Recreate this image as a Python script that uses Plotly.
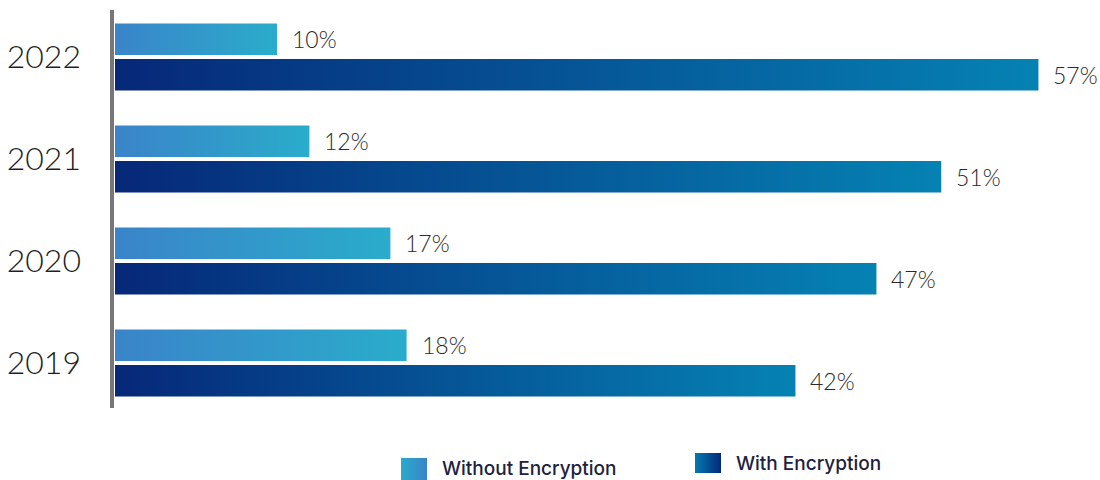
import plotly.graph_objects as go

# Share of incidents, by year
years = ["2019", "2020", "2021", "2022"]
without_encryption = [18, 17, 12, 10]
with_encryption = [42, 47, 51, 57]
series_names = ["Without Encryption", "With Encryption"]

# Styling
WITHOUT_SCALE = [[0, "#3a84c9"], [1, "#2aaccb"]]
WITH_SCALE = [[0, "#062878"], [1, "#0582b3"]]
WITHOUT_SWATCH = [[0, "#2aaacb"], [1, "#3a84c8"]]
WITH_SWATCH = [[0, "#047ab0"], [1, "#03287a"]]
BAR_H = 0.31      # bar thickness, in category units
OFFSET = 0.174    # distance of each bar from the category centre
FONT = "Lato"

fig = go.Figure()


def gradient_bar(value, centre, scale):
    y0, y1 = centre - BAR_H / 2, centre + BAR_H / 2
    return go.Scatter(
        x=[0, value, value, 0, 0],
        y=[y0, y0, y1, y1, y0],
        mode="lines",
        line=dict(width=0),
        fill="toself",
        fillgradient=dict(type="horizontal", colorscale=scale),
        hoverinfo="skip",
        showlegend=False,
    )


annotations = []
for i, yr in enumerate(years):
    for val, off, scale in (
        (without_encryption[i], OFFSET, WITHOUT_SCALE),
        (with_encryption[i], -OFFSET, WITH_SCALE),
    ):
        fig.add_trace(gradient_bar(val, i + off, scale))
        annotations.append(dict(
            x=val, y=i + off, xref="x", yref="y",
            text=f"{val}%", showarrow=False,
            xanchor="left", yanchor="middle", xshift=13,
            font=dict(family=FONT, size=23, color="#2a2a2a", weight=300),
        ))

# Legend swatches drawn on a pixel-scaled overlay axis
swatches = [
    (401, 427, 458, 480, WITHOUT_SWATCH),
    (695, 721, 453, 473, WITH_SWATCH),
]
for x0, x1, y0, y1, scale in swatches:
    fig.add_trace(go.Scatter(
        x=[x0, x1, x1, x0, x0], y=[y0, y0, y1, y1, y0],
        xaxis="x2", yaxis="y2", mode="lines", line=dict(width=0),
        fill="toself", fillgradient=dict(type="horizontal", colorscale=scale),
        hoverinfo="skip", showlegend=False,
    ))

legend_text = [(440, 468.5, series_names[0]), (734, 463, series_names[1])]
for x, y, t in legend_text:
    annotations.append(dict(
        x=x, y=y, xref="x2", yref="y2", text=t, showarrow=False,
        xanchor="left", yanchor="middle",
        font=dict(family="Inter", size=19, color="#1b2240", weight=500),
    ))

fig.update_layout(
    width=1100, height=480,
    margin=dict(l=115, r=0, t=6, b=0),
    paper_bgcolor="white", plot_bgcolor="white",
    showlegend=False,
    xaxis=dict(range=[0, 60.8], visible=False, fixedrange=True),
    yaxis=dict(
        range=[3.5 - 474 / 102, 3.5],
        tickvals=list(range(len(years))), ticktext=years,
        showgrid=False, zeroline=False, showline=False, ticks="",
        ticklabelstandoff=33,
        tickfont=dict(family=FONT, size=32, color="#1f1f1f", weight=300),
    ),
    xaxis2=dict(range=[115, 1100], overlaying="x", anchor="y2", visible=False),
    yaxis2=dict(range=[480, 6], overlaying="y", anchor="x2", visible=False),
    annotations=annotations,
    shapes=[dict(
        type="line", xref="paper", yref="y",
        x0=-3 / 985, x1=-3 / 985, y0=-0.44, y1=3.46,
        line=dict(color="#77777b", width=4),
    )],
)

fig.write_html("out.html")
